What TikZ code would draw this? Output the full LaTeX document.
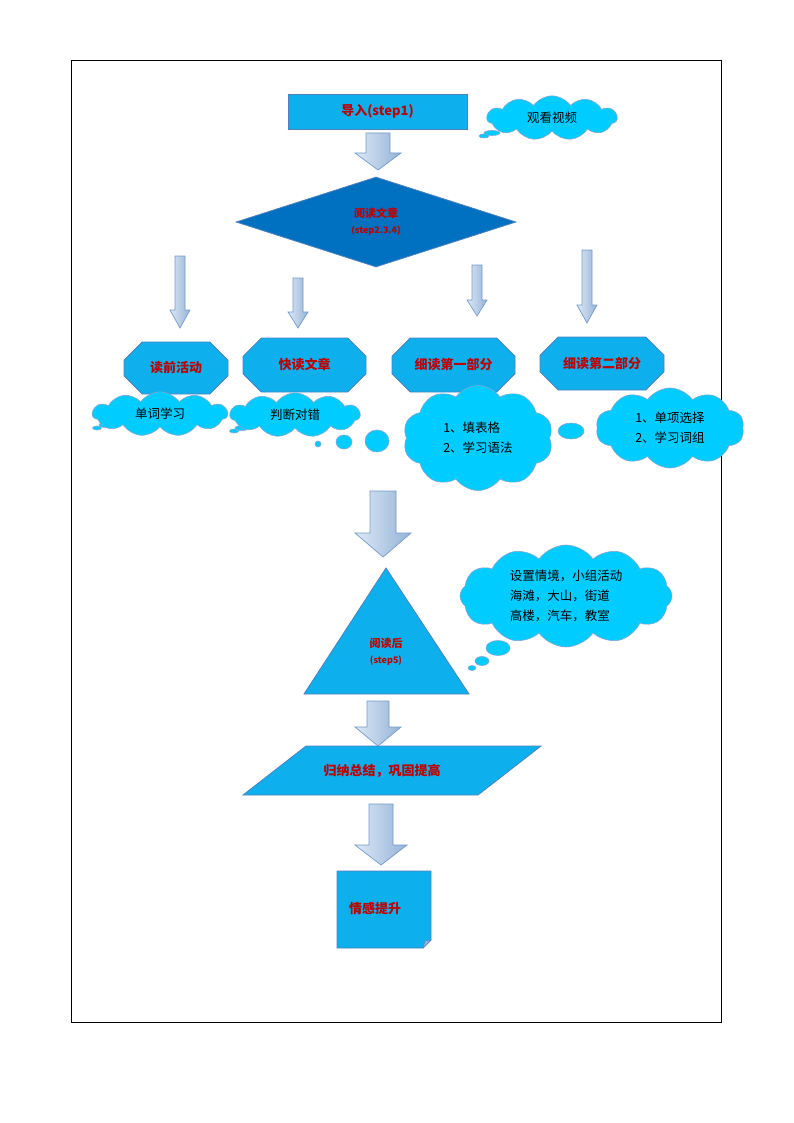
\documentclass[tikz,border=0pt]{standalone}
\usepackage{fontspec}
\setmainfont{Liberation Sans}
\newfontfamily\cjk{Noto Sans CJK SC}
\usetikzlibrary{shapes.geometric,shapes.misc,shapes.symbols}
\definecolor{fillc}{HTML}{0DB0EC}
\definecolor{edgec}{HTML}{4F81BD}
\definecolor{cloudc}{HTML}{00CCFF}
\definecolor{redt}{HTML}{C00000}
\definecolor{darkb}{HTML}{0070C0}
\definecolor{arrA}{HTML}{DCE8F6}
\definecolor{arrB}{HTML}{95B3D7}
\tikzset{
 box/.style={draw=edgec,fill=fillc,line width=0.8pt},
 lab/.style={font=\cjk\bfseries\fontsize{13}{15}\selectfont,text=redt,align=center},
 ctext/.style={font=\cjk\fontsize{12.5}{20}\selectfont,align=left},
 cl/.style={cloud,cloud puffs=11,cloud puff arc=110,aspect=2,draw=edgec!70,fill=cloudc,line width=0.6pt,inner sep=0pt},
 bub/.style={ellipse,draw=edgec!70,fill=cloudc,line width=0.6pt,inner sep=0pt},
 oct/.style={chamfered rectangle,chamfered rectangle xsep=12pt,chamfered rectangle ysep=12pt,box,inner sep=0pt},
 barr/.style={draw=edgec!80,line width=0.7pt,left color=arrA,right color=arrB}
}
% \barw{cx}{ytop}{yhead}{ybot}{half shaft}{half head}
\newcommand{\barw}[6]{\path[barr] (#1-#5,#2) -- (#1+#5,#2) -- (#1+#5,#3) -- (#1+#6,#3) -- (#1,#4) -- (#1-#6,#3) -- (#1-#5,#3) -- cycle;}
\begin{document}
\begin{tikzpicture}[x=1pt,y=-1pt]
\useasboundingbox (0,0) rectangle (794,1123);
\draw[line width=0.6pt] (71,60) rectangle (721,1022);
% step1
\node[box,minimum width=179pt,minimum height=35pt,lab] (s1) at (377.5,111.5) {导入(step1)};
\node[bub,minimum width=16pt,minimum height=5pt] (t1a) at (492,133) {};
\node[bub,minimum width=10pt,minimum height=4pt] (t1b) at (484,136) {};
\node[cl,minimum width=130pt,minimum height=42pt,ctext] (c1) at (552,118) {观看视频};
\barw{378}{133}{153}{170}{12}{23}
% diamond
\node[diamond,draw=edgec,fill=darkb,line width=0.8pt,minimum width=280pt,minimum height=90pt,inner sep=0pt] (d) at (376,222) {};
\node[lab,font=\cjk\bfseries\fontsize{11}{16}\selectfont] (dt) at (376,222) {阅读文章\\{\fontsize{9}{12}\selectfont (step2.3.4)}};
% thin arrows
\barw{180}{256}{310}{328}{5}{10}
\barw{298}{278}{312}{328}{5}{10}
\barw{477}{265}{300}{316}{5}{10}
\barw{587}{250}{305}{323}{5}{10}
% octagons
\node[oct,minimum width=104pt,minimum height=52pt,lab] (o1) at (176,368) {读前活动};
\node[oct,minimum width=123pt,minimum height=54pt,lab] (o2) at (304.5,365) {快读文章};
\node[oct,minimum width=123pt,minimum height=54pt,lab] (o3) at (453.5,365) {细读第一部分};
\node[oct,minimum width=124pt,minimum height=53pt,lab] (o4) at (602,363.5) {细读第二部分};
% clouds row
\node[bub,minimum width=14pt,minimum height=5pt] (t2a) at (106,425) {};
\node[bub,minimum width=9pt,minimum height=4pt] (t2b) at (97,428) {};
\node[cl,minimum width=135pt,minimum height=40pt,ctext] (c2) at (160,414) {单词学习};
\node[bub,minimum width=14pt,minimum height=5pt] (t3a) at (242,428) {};
\node[bub,minimum width=9pt,minimum height=4pt] (t3b) at (234,431) {};
\node[cl,minimum width=130pt,minimum height=40pt,ctext] (c3) at (295,415) {判断对错};
\node[bub,minimum width=6pt,minimum height=6pt] (b1) at (318,444) {};
\node[bub,minimum width=16pt,minimum height=14pt] (b2) at (344,442) {};
\node[bub,minimum width=24pt,minimum height=22pt] (b3) at (377,441) {};
\node[cl,cloud puffs=10,aspect=1.4,minimum width=150pt,minimum height=105pt,ctext] (c4) at (478,438) {1、填表格\\2、学习语法};
\node[bub,minimum width=26pt,minimum height=16pt] (b4) at (571,431) {};
\node[cl,cloud puffs=10,aspect=1.8,minimum width=148pt,minimum height=80pt,ctext] (c5) at (670,428) {1、单项选择\\2、学习词组};
% big arrow
\barw{383}{491}{533}{557}{13}{28}
% triangle
\path[box] (304,694) -- (469,694) -- (386,568) -- cycle;
\node[lab,font=\cjk\bfseries\fontsize{11}{16}\selectfont] (tri) at (386,652) {阅读后\\{\fontsize{9}{12}\selectfont (step5)}};
\node[bub,minimum width=24pt,minimum height=15pt] (b5) at (498,648) {};
\node[bub,minimum width=14pt,minimum height=9pt] (b6) at (482,661) {};
\node[bub,minimum width=8pt,minimum height=5pt] (b7) at (472,668) {};
\node[cl,cloud puffs=12,aspect=2,minimum width=212pt,minimum height=102pt,ctext] (c6) at (566,596) {设置情境，小组活动\\海滩，大山，街道\\高楼，汽车，教室};
\barw{378}{701}{727}{746}{11}{23}
% parallelogram
\path[box] (306,746) -- (541,746) -- (478,795) -- (243,795) -- cycle;
\node[lab] (p) at (382,771) {归纳总结，巩固提高};
\barw{381}{804}{845}{865}{12}{26}
% note
\path[box] (337,871) -- (431,871) -- (431,940) -- (423,948) -- (337,948) -- cycle;
\path[draw=edgec,fill=edgec!60] (431,940) -- (425,941) -- (423,948) -- cycle;
\node[lab] (n) at (375,909) {情感提升};
\end{tikzpicture}
\end{document}
